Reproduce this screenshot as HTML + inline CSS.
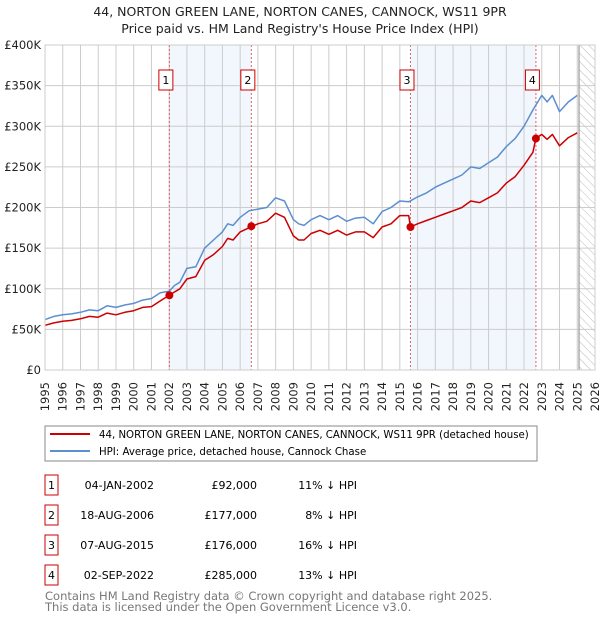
<!DOCTYPE html>
<html><head><meta charset="utf-8"><style>
body{margin:0;background:#fff;font-family:"DejaVu Sans","Liberation Sans",sans-serif;}
svg text{font-family:"DejaVu Sans","Liberation Sans",sans-serif;}
</style></head><body>
<svg id="chart" width="600" height="620" viewBox="0 0 600 620" xmlns="http://www.w3.org/2000/svg">
<defs><pattern id="hatch" width="6" height="6" patternUnits="userSpaceOnUse" patternTransform="rotate(-45)"><line x1="0" y1="0" x2="0" y2="6" stroke="#bbb" stroke-width="1"/></pattern></defs>
<text x="300" y="16" text-anchor="middle" font-size="12.5" fill="#222">44, NORTON GREEN LANE, NORTON CANES, CANNOCK, WS11 9PR</text>
<text x="300" y="33" text-anchor="middle" font-size="12.5" fill="#222">Price paid vs. HM Land Registry's House Price Index (HPI)</text>
<g id="plot"></g>
<g>
<rect x="45" y="426" width="492" height="35" fill="#fff" stroke="#888"/>
<line x1="50" y1="434" x2="90" y2="434" stroke="#cc0000" stroke-width="2"/>
<text x="99" y="438" font-size="10.2" fill="#000">44, NORTON GREEN LANE, NORTON CANES, CANNOCK, WS11 9PR (detached house)</text>
<line x1="50" y1="451" x2="90" y2="451" stroke="#5b8fd0" stroke-width="2"/>
<text x="99" y="455" font-size="10.2" fill="#000">HPI: Average price, detached house, Cannock Chase</text>
</g>
<g id="table" font-size="11" fill="#000"></g>
<text x="45" y="600" font-size="11.5" fill="#777">Contains HM Land Registry data © Crown copyright and database right 2025.</text>
<text x="45" y="611" font-size="11.5" fill="#777">This data is licensed under the Open Government Licence v3.0.</text>
</svg>
<script>
const hpiYears=[1995,1995.5,1996,1996.5,1997,1997.5,1998,1998.5,1999,1999.5,2000,2000.5,2001,2001.5,2002,2002.3,2002.6,2003,2003.5,2004,2004.5,2005,2005.3,2005.6,2006,2006.5,2007,2007.5,2008,2008.5,2009,2009.3,2009.6,2010,2010.5,2011,2011.5,2012,2012.5,2013,2013.5,2014,2014.5,2015,2015.5,2016,2016.5,2017,2017.5,2018,2018.5,2019,2019.5,2020,2020.5,2021,2021.5,2022,2022.5,2023,2023.3,2023.6,2024,2024.5,2025];
const hpiValues=[62,66,68,69,71,74,73,79,77,80,82,86,88,95,97,104,108,125,127,150,160,170,180,178,188,196,198,200,212,208,185,180,178,185,190,185,190,183,187,188,180,195,200,208,207,213,218,225,230,235,240,250,248,255,262,275,285,300,320,338,330,338,318,330,338];
const redYears=[1995,1995.5,1996,1996.5,1997,1997.5,1998,1998.5,1999,1999.5,2000,2000.5,2001,2001.5,2002,2002.3,2002.6,2003,2003.5,2004,2004.5,2005,2005.3,2005.6,2006,2006.5,2007,2007.5,2008,2008.5,2009,2009.3,2009.6,2010,2010.5,2011,2011.5,2012,2012.5,2013,2013.5,2014,2014.5,2015,2015.5,2015.6,2016,2016.5,2017,2017.5,2018,2018.5,2019,2019.5,2020,2020.5,2021,2021.5,2022,2022.5,2022.67,2023,2023.3,2023.6,2024,2024.5,2025];
const redValues=[55,58,60,61,63,66,65,70,68,71,73,77,78,85,92,96,100,112,115,135,142,152,162,160,170,175,180,183,193,188,165,160,160,168,172,167,172,166,170,170,163,176,180,190,190,176,180,184,188,192,196,200,208,206,212,218,230,238,252,268,285,290,284,290,276,286,292];
const saleLabels=["1","2","3","4"];
const saleYears=[2002.01,2006.63,2015.6,2022.67];
const salePrices=[92,177,176,285];
const saleDates=["04-JAN-2002","18-AUG-2006","07-AUG-2015","02-SEP-2022"];
const salePriceText=["£92,000","£177,000","£176,000","£285,000"];
const saleDiff=["11% ↓ HPI","8% ↓ HPI","16% ↓ HPI","13% ↓ HPI"];
const yTicks=[0,50,100,150,200,250,300,350,400];
const yTickLabels=["£0","£50K","£100K","£150K","£200K","£250K","£300K","£350K","£400K"];
const xTicks=[1995,1996,1997,1998,1999,2000,2001,2002,2003,2004,2005,2006,2007,2008,2009,2010,2011,2012,2013,2014,2015,2016,2017,2018,2019,2020,2021,2022,2023,2024,2025,2026];

const X0=45,X1=595,Y0=370,Y1=45,xMin=1995,xMax=2026,yMax=400;
const sx=v=>X0+(v-xMin)/(xMax-xMin)*(X1-X0);
const sy=v=>Y0-v/yMax*(Y0-Y1);
const NS="http://www.w3.org/2000/svg";
const plot=document.getElementById('plot');
function mk(tag,attrs,parent){const e=document.createElementNS(NS,tag);for(const k in attrs)e.setAttribute(k,attrs[k]);(parent||plot).appendChild(e);return e;}

for(let i=0;i<saleYears.length;i+=2){
  const r=mk('rect',{x:sx(saleYears[i]),y:Y1,width:sx(saleYears[i+1])-sx(saleYears[i]),height:Y0-Y1,fill:'#f2f6fd'});
  
  
}
const h=mk('rect',{x:sx(2025.1),y:Y1,width:X1-sx(2025.1),height:Y0-Y1,fill:'url(#hatch)'});


xTicks.forEach(t=>{
  const l=mk('line',{x1:sx(t),x2:sx(t),y1:Y1,y2:Y0,stroke:'#ccc','stroke-width':1});
  
  
  const tx=mk('text',{x:0,y:0,transform:`translate(${sx(t)+4},${Y0+12}) rotate(-90)`,'text-anchor':'end','font-size':11.5,fill:'#222'});
  tx.textContent=t;
  
  
});
yTicks.forEach((t,i)=>{
  const l=mk('line',{x1:X0,x2:X1,y1:sy(t),y2:sy(t),stroke:'#ccc','stroke-width':1});
  
  
  const tx=mk('text',{x:X0-4,y:sy(t)+4,'text-anchor':'end','font-size':11.5,fill:'#222'});
  tx.textContent=yTickLabels[i];
  
  
});
const vline=mk('line',{x1:sx(2025.1),x2:sx(2025.1),y1:Y1,y2:Y0,stroke:'#999','stroke-width':1.2});


saleYears.forEach((s,i)=>{
  const l=mk('line',{x1:sx(s),x2:sx(s),y1:Y1,y2:Y0,stroke:'#e06060','stroke-width':1,'stroke-dasharray':'2,2'});
  
  
  const b=mk('rect',{x:sx(s)-10.5,y:70,width:14,height:20,fill:'#fff',stroke:'#cc0000'});
  
  
  const t=mk('text',{x:sx(s)-3.5,y:84,'text-anchor':'middle','font-size':11,fill:'#000'});
  t.textContent=saleLabels[i];
  
  
});
function line(xs,ys,color,name){
  const p=mk('path',{d:xs.map((x,i)=>(i?'L':'M')+sx(x).toFixed(1)+','+sy(ys[i]).toFixed(1)).join(''),fill:'none',stroke:color,'stroke-width':1.5,'stroke-linejoin':'round'});
  
  
}
line(hpiYears,hpiValues,'#5b8fd0','hpi-line');
line(redYears,redValues,'#cc0000','property-price-line');
saleYears.forEach((s,i)=>{
  const c=mk('circle',{cx:sx(s),cy:sy(salePrices[i]),r:4,fill:'#cc0000'});
  
  
});
mk('rect',{x:X0,y:Y1,width:X1-X0,height:Y0-Y1,fill:'none',stroke:'#ccc'});
const tb=document.getElementById('table');
saleYears.forEach((s,i)=>{
  const cy=485+i*30;
  const b=mk('rect',{x:45,y:cy-10,width:13,height:20,fill:'#fff',stroke:'#cc0000'},tb);
  
  
  const cells=[[51.5,saleLabels[i],'middle'],[154,saleDates[i],'end'],[257,salePriceText[i],'end'],[357,saleDiff[i],'end']];
  cells.forEach(c=>{
    const t=mk('text',{x:c[0],y:cy+4,'text-anchor':c[2],'font-size':11},tb);
    t.textContent=c[1];
    
    
  });
});
</script>
</body></html>
